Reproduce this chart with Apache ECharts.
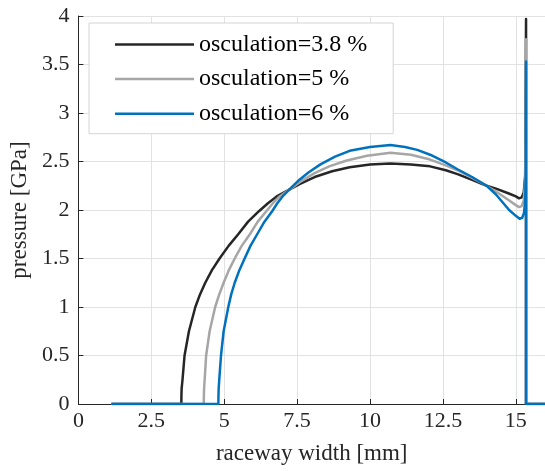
<!DOCTYPE html>
<html>
<head>
<meta charset="utf-8">
<script src="https://cdn.jsdelivr.net/npm/echarts@6/dist/echarts.min.js"></script>
<style>
  html, body { margin: 0; padding: 0; background: #ffffff; }
  #chart { width: 545px; height: 471px; }
</style>
</head>
<body>
<div id="chart"></div>
<script>
// Contact pressure across the raceway width for three osculation values
const seriesNames = ['osculation=3.8 %', 'osculation=5 %', 'osculation=6 %'];

const widthA = [1.13, 3.53, 3.532, 3.54, 3.57, 3.64, 3.79, 4.01, 4.17, 4.35, 4.58, 4.84, 5.15, 5.48, 5.82, 6.2, 6.5, 6.8, 7.23, 7.6, 8.1, 8.7, 9.3, 10.0, 10.7, 11.4, 12.06, 12.6, 13.0, 13.5, 14.0, 14.32, 14.76, 15.0, 15.11, 15.2, 15.27, 15.32, 15.35, 15.35, 16];
const pressureA = [0, 0, 0.08, 0.16, 0.25, 0.5, 0.75, 1.0, 1.13, 1.25, 1.38, 1.5, 1.63, 1.75, 1.88, 1.99, 2.07, 2.14, 2.21, 2.27, 2.34, 2.4, 2.44, 2.47, 2.48, 2.47, 2.45, 2.41, 2.37, 2.31, 2.25, 2.22, 2.17, 2.14, 2.12, 2.13, 2.18, 2.35, 3.97, 0, 0];

const widthB = [1.13, 4.3, 4.302, 4.31, 4.33, 4.38, 4.5, 4.69, 4.83, 4.98, 5.16, 5.36, 5.6, 5.88, 6.15, 6.45, 6.67, 6.9, 7.23, 7.6, 8.1, 8.6, 9.2, 9.9, 10.7, 11.4, 12.06, 12.6, 13.0, 13.5, 14.0, 14.32, 14.76, 15.0, 15.11, 15.2, 15.27, 15.32, 15.35, 15.35, 16];
const pressureB = [0, 0, 0.08, 0.16, 0.25, 0.5, 0.75, 1.0, 1.13, 1.25, 1.38, 1.5, 1.63, 1.75, 1.88, 1.99, 2.07, 2.14, 2.21, 2.29, 2.38, 2.45, 2.51, 2.56, 2.59, 2.57, 2.52, 2.46, 2.41, 2.33, 2.25, 2.19, 2.1, 2.05, 2.03, 2.04, 2.1, 2.3, 3.76, 0, 0];

const widthC = [1.13, 4.8, 4.802, 4.81, 4.83, 4.89, 4.98, 5.14, 5.24, 5.36, 5.52, 5.7, 5.9, 6.13, 6.38, 6.65, 6.82, 7.0, 7.23, 7.57, 7.9, 8.3, 8.8, 9.3, 10.0, 10.7, 11.2, 11.62, 12.06, 12.6, 13.0, 13.5, 14.0, 14.32, 14.77, 15.0, 15.13, 15.22, 15.28, 15.32, 15.34, 15.35, 15.35, 16];
const pressureC = [0, 0, 0.08, 0.16, 0.25, 0.5, 0.75, 1.0, 1.13, 1.25, 1.38, 1.5, 1.63, 1.75, 1.88, 1.99, 2.07, 2.14, 2.21, 2.31, 2.39, 2.47, 2.55, 2.61, 2.65, 2.67, 2.65, 2.62, 2.57, 2.49, 2.42, 2.34, 2.25, 2.16, 2.0, 1.94, 1.91, 1.92, 1.97, 2.1, 2.4, 3.53, 0, 0];

const lineColors = ['#262626', '#a6a6a6', '#0072bd'];
const xTicks = { min: 0, max: 16, step: 2.5 };
const yTicks = { min: 0, max: 4, step: 0.5 };

const FONT = '"Liberation Serif", "Times New Roman", serif';
const AXIS_COLOR = '#262626';
const GRID_COLOR = '#e2e2e2';

function pairs(xs, ys) {
  return xs.map((x, i) => [x, ys[i]]);
}

const curves = [pairs(widthA, pressureA), pairs(widthB, pressureB), pairs(widthC, pressureC)];

const chart = echarts.init(document.getElementById('chart'), null, { renderer: 'canvas' });

chart.setOption({
  animation: false,
  backgroundColor: '#ffffff',
  grid: { left: 76, right: -4.6, top: 16, bottom: 67, containLabel: false },
  legend: {
    orient: 'vertical',
    left: 89,
    top: 23,
    data: seriesNames,
    icon: 'rect',
    itemWidth: 79,
    itemHeight: 2.5,
    itemGap: 10.6,
    padding: [9.5, 26, 8, 26],
    backgroundColor: '#ffffff',
    borderColor: '#d4d4d4',
    borderWidth: 1,
    borderRadius: 0,
    textStyle: { fontFamily: FONT, fontSize: 24, color: '#000000', lineHeight: 24 }
  },
  xAxis: {
    type: 'value',
    min: xTicks.min,
    max: xTicks.max,
    interval: xTicks.step,
    name: 'raceway width [mm]',
    nameLocation: 'middle',
    nameGap: 38,
    nameTextStyle: { fontFamily: FONT, fontSize: 23, color: AXIS_COLOR },
    axisLine: { show: true, onZero: false, lineStyle: { color: AXIS_COLOR, width: 1 } },
    axisTick: { show: true, inside: true, length: 5, lineStyle: { color: AXIS_COLOR } },
    axisLabel: { fontFamily: FONT, fontSize: 22, color: AXIS_COLOR, margin: 6, showMaxLabel: false },
    splitLine: { show: true, lineStyle: { color: GRID_COLOR, width: 1 } }
  },
  yAxis: {
    type: 'value',
    min: yTicks.min,
    max: yTicks.max,
    interval: yTicks.step,
    name: 'pressure [GPa]',
    nameLocation: 'middle',
    nameGap: 39,
    nameTextStyle: { fontFamily: FONT, fontSize: 23, color: AXIS_COLOR },
    axisLine: { show: true, onZero: false, lineStyle: { color: AXIS_COLOR, width: 1 } },
    axisTick: { show: true, inside: true, length: 5, lineStyle: { color: AXIS_COLOR } },
    axisLabel: { fontFamily: FONT, fontSize: 22, color: AXIS_COLOR, margin: 9 },
    splitLine: { show: true, lineStyle: { color: GRID_COLOR, width: 1 } }
  },
  series: curves.map((data, i) => ({
    name: seriesNames[i],
    type: 'line',
    data: data,
    showSymbol: false,
    symbol: 'none',
    smooth: false,
    clip: true,
    z: 2 + i,
    color: lineColors[i],
    lineStyle: { color: lineColors[i], width: 2.5, join: 'round' }
  }))
});
</script>
</body>
</html>
